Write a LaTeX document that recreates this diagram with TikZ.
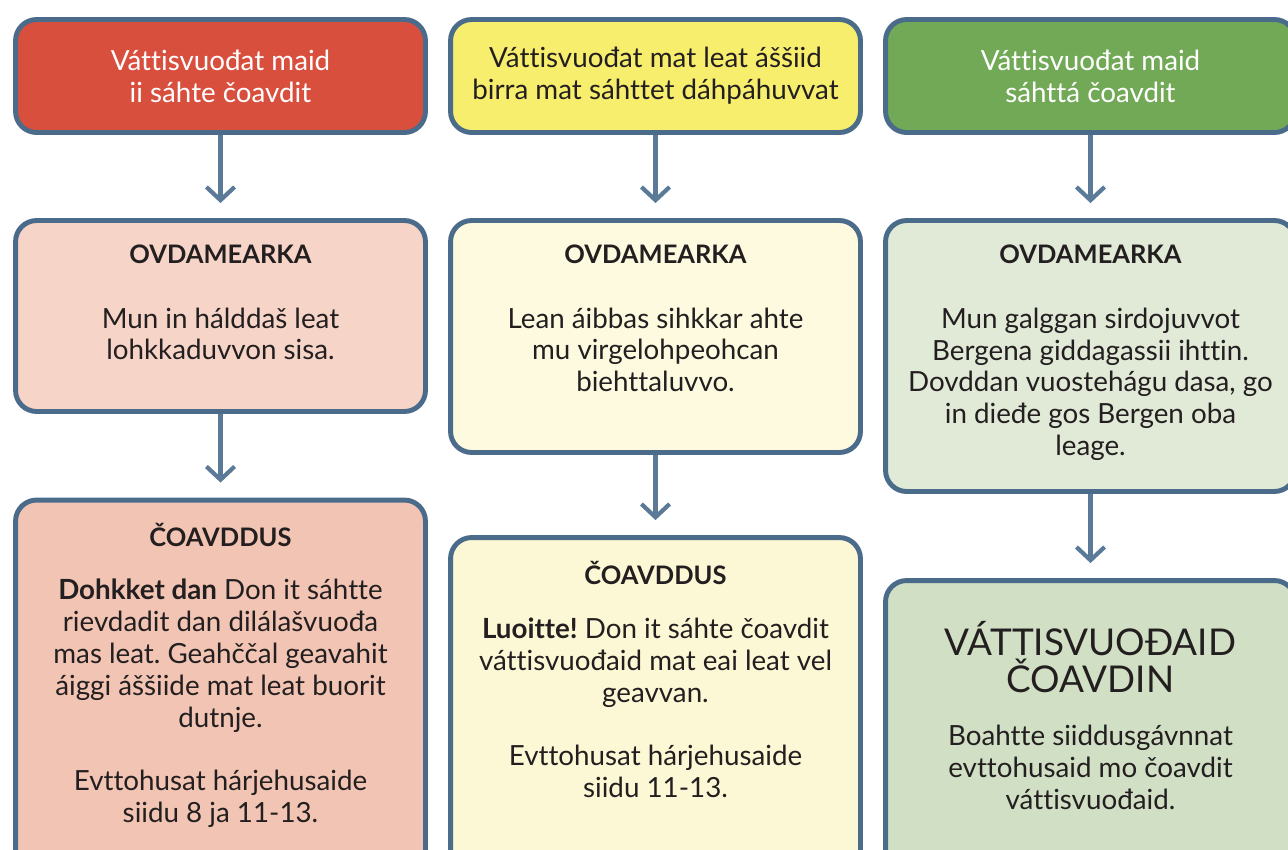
\documentclass[tikz,border=0pt]{standalone}
\usepackage{fontspec}
\setmainfont{Lato}[Ligatures=NoCommon]
\usetikzlibrary{arrows.meta,positioning}
\frenchspacing
\definecolor{frame}{HTML}{4B6B8B}
\definecolor{arrowc}{HTML}{5A7A97}
\definecolor{ink}{HTML}{231F20}
\definecolor{redtop}{HTML}{D94F3E}
\definecolor{redmid}{HTML}{F6D5C8}
\definecolor{redbot}{HTML}{F2C4B3}
\definecolor{yeltop}{HTML}{F8EE6E}
\definecolor{yelmid}{HTML}{FDFADF}
\definecolor{yelbot}{HTML}{FCF7D4}
\definecolor{grntop}{HTML}{72A957}
\definecolor{grnmid}{HTML}{E1E9D7}
\definecolor{grnbot}{HTML}{D1DFC4}
\newcommand{\hd}[1]{{\fontsize{14.5}{18.1}\selectfont\bfseries #1}}
\tikzstyle{box}=[draw=frame,line width=2.8pt,rounded corners=12pt,inner sep=0,
  minimum width=8.2cm]
\tikzstyle{txt}=[align=center,inner sep=0,text=ink,
  font=\fontsize{15.8}{18.1}\selectfont]
\tikzstyle{dist}=[arrowc,line width=2.4pt,
  -{Straight Barb[length=7.5pt,width=16pt]},shorten >=0.3cm]

\begin{document}
\begin{tikzpicture}[x=0.02cm,y=-0.02cm,
    big/.style={txt,font=\fontsize{21}{21}\selectfont}
  ]
  \useasboundingbox (0,0) rectangle (1288,849);
  \clip (0,0) rectangle (1288,849);

  % top row
  \node [box,fill=redtop,minimum height=2.26cm] (top1) at (220.5,76) {};
  \node [box,fill=yeltop,minimum height=2.26cm] (top2) at (655.5,76) {};
  \node [box,fill=grntop,minimum height=2.26cm] (top3) at (1090.5,76) {};
  \node [txt,text=white] (top1txt) at (top1) {V\'attisvuo\dj at maid\\ii s\'ahte \v coavdit};
  \node [txt] (top2txt) at (top2) {V\'attisvuo\dj at mat leat \'a\v s\v siid\\birra mat s\'ahttet d\'ahp\'ahuvvat};
  \node [txt,text=white] (top3txt) at (top3) {V\'attisvuo\dj at maid\\s\'ahtt\'a \v coavdit};

  % middle row
  \node [box,fill=redmid,minimum height=3.82cm] (mid1) at (220.5,316) {};
  \node [box,fill=yelmid,minimum height=4.64cm] (mid2) at (655.5,336.5) {};
  \node [box,fill=grnmid,minimum height=5.42cm] (mid3) at (1090.5,356) {};
  \node [txt,anchor=north,below=0.53cm of mid1.north] (mid1txt)
    {\hd{OVDAMEARKA}\\[18.7pt]Mun in h\'aldda\v s leat\\lohkkaduvvon sisa.};
  \node [txt,anchor=north,below=0.53cm of mid2.north] (mid2txt)
    {\hd{OVDAMEARKA}\\[18.7pt]Lean \'aibbas sihkkar ahte\\mu virgelohpeohcan\\biehttaluvvo.};
  \node [txt,anchor=north,below=0.53cm of mid3.north] (mid3txt)
    {\hd{OVDAMEARKA}\\[18.7pt]Mun galggan sirdojuvvot\\Bergena giddagassii ihttin.\\
     Dovddan vuosteh\'agu dasa, go\\in die\dj e gos Bergen oba\\leage.};

  % bottom row
  \node [box,fill=redbot,minimum height=8cm] (bot1) at (220.5,700) {};
  \node [box,fill=yelbot,minimum height=8cm] (bot2) at (655.5,737.5) {};
  \node [box,fill=grnbot,minimum height=8cm] (bot3) at (1090.5,780.5) {};
  \node [txt,anchor=north,below=0.5cm of bot1.north] (bot1txt)
    {\hd{\v COAVDDUS}\\[12.5pt]\textbf{Dohkket dan} Don it s\'ahtte\\
     rievdadit dan dil\'ala\v svuo\dj a\\mas leat. Geah\v c\v cal geavahit\\
     \'aiggi \'a\v s\v siide mat leat buorit\\dutnje.\\[18.1pt]
     Evttohusat h\'arjehusaide\\siidu 8 ja 11-13.};
  \node [txt,anchor=north,below=0.52cm of bot2.north] (bot2txt)
    {\hd{\v COAVDDUS}\\[12.5pt]\textbf{Luoitte!} Don it s\'ahte \v coavdit\\
     v\'attisvuo\dj aid mat eai leat vel\\geavvan.\\[18.1pt]
     Evttohusat h\'arjehusaide\\siidu 11-13.};
  \node [big,anchor=north,below=0.86cm of bot3.north] (bot3head)
    {V\'ATTISVUO\DJ AID\\\v COAVDIN};
  \node [txt,anchor=north,below=0.64cm of bot3head.south] (bot3txt)
    {Boahtte siiddusg\'avnnat\\evttohusaid mo \v coavdit\\v\'attisvuo\dj aid.};

  % arrows
  \foreach \a/\b in {top1/mid1,mid1/bot1,top2/mid2,mid2/bot2,top3/mid3,mid3/bot3}
    \draw [dist] (\a) -- (\b);
\end{tikzpicture}
\end{document}
